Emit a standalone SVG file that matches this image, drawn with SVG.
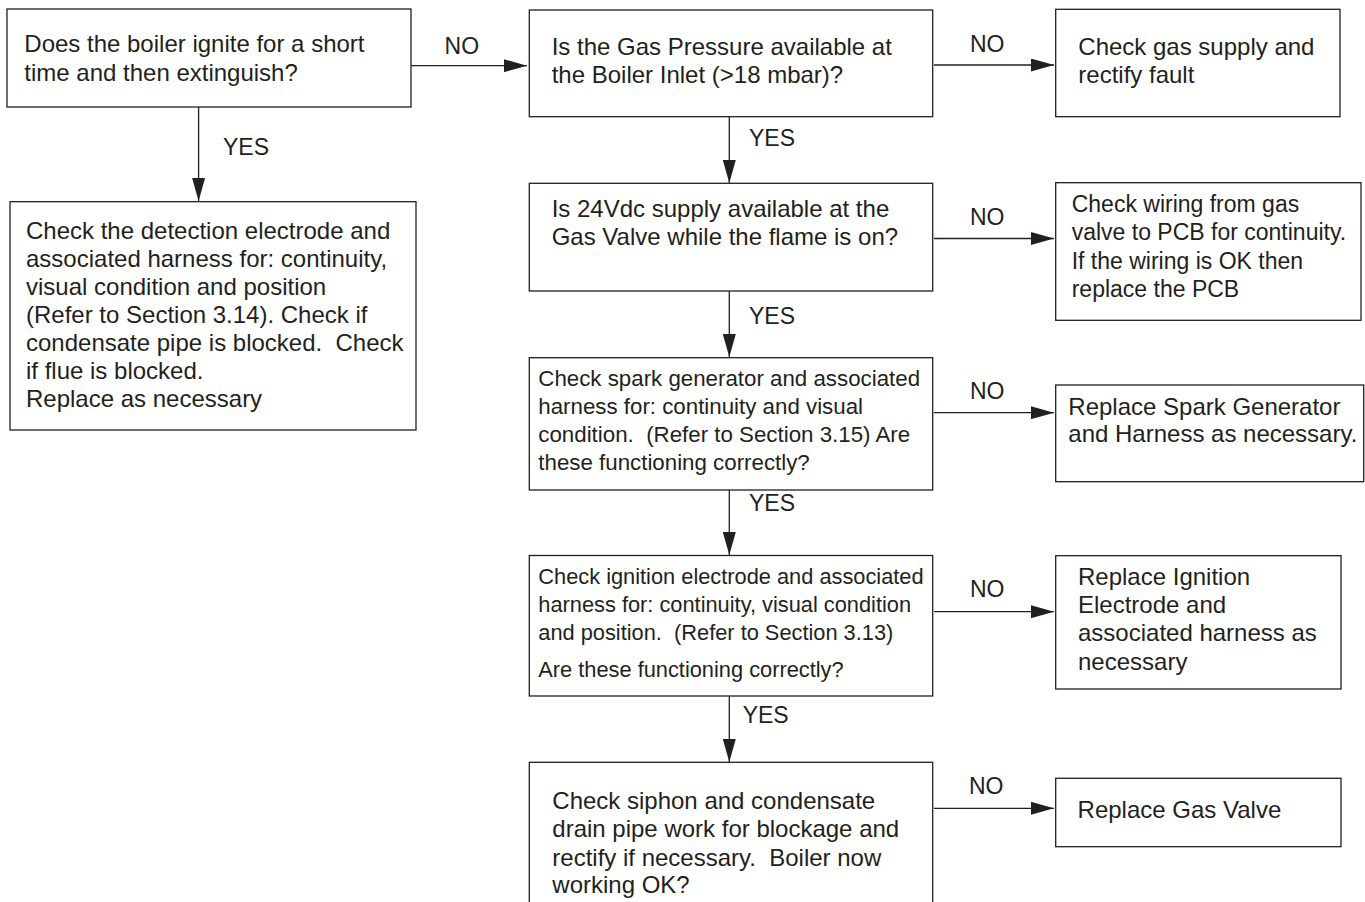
<svg xmlns="http://www.w3.org/2000/svg" width="1365" height="902" viewBox="0 0 1365 902">
<style>
.box{fill:#fff;stroke:#231f20;stroke-width:1.3}
.t{font-family:"Liberation Sans",Arial,sans-serif;font-size:24px;fill:#231f20;white-space:pre}
.s22{font-size:22.3px}
.s21{font-size:21.8px}
.s23{font-size:23px}
.lbl{font-family:"Liberation Sans",Arial,sans-serif;font-size:23px;fill:#231f20}
.c{stroke:#231f20;stroke-width:1.3;fill:none}
</style>
<defs>
<marker id="ah" markerUnits="userSpaceOnUse" viewBox="0 0 23 13" refX="23" refY="6.5" markerWidth="23" markerHeight="13" orient="auto">
<path d="M0,0 L23,6.5 L0,13 Z" fill="#231f20"/>
</marker>
</defs>
<rect width="1365" height="902" fill="#fff"/>

<g id="connectors">
<line class="c" x1="411" y1="65.7" x2="527" y2="65.7" marker-end="url(#ah)"/>
<line class="c" x1="198.6" y1="107" x2="198.6" y2="201" marker-end="url(#ah)"/>
<line class="c" x1="934" y1="65" x2="1054" y2="65" marker-end="url(#ah)"/>
<line class="c" x1="729.3" y1="116.7" x2="729.3" y2="183" marker-end="url(#ah)"/>
<line class="c" x1="934" y1="238.5" x2="1054" y2="238.5" marker-end="url(#ah)"/>
<line class="c" x1="729.3" y1="291" x2="729.3" y2="357" marker-end="url(#ah)"/>
<line class="c" x1="934" y1="412.7" x2="1054" y2="412.7" marker-end="url(#ah)"/>
<line class="c" x1="729.3" y1="490" x2="729.3" y2="555" marker-end="url(#ah)"/>
<line class="c" x1="934" y1="611.7" x2="1054" y2="611.7" marker-end="url(#ah)"/>
<line class="c" x1="729.3" y1="696" x2="729.3" y2="762" marker-end="url(#ah)"/>
<line class="c" x1="934" y1="808.3" x2="1054" y2="808.3" marker-end="url(#ah)"/>
<text class="lbl" x="444.6" y="54">NO</text>
<text class="lbl" x="223" y="155">YES</text>
<text class="lbl" x="970" y="52">NO</text>
<text class="lbl" x="749" y="146">YES</text>
<text class="lbl" x="970" y="225">NO</text>
<text class="lbl" x="749" y="323.5">YES</text>
<text class="lbl" x="970" y="399">NO</text>
<text class="lbl" x="749" y="511">YES</text>
<text class="lbl" x="970" y="597">NO</text>
<text class="lbl" x="742.7" y="723">YES</text>
<text class="lbl" x="969" y="794">NO</text>
</g>

<g id="n1">
<rect class="box" x="7" y="9" width="404" height="98"/>
<text class="t" x="24.3" y="52">Does the boiler ignite for a short</text>
<text class="t" x="24.3" y="80.5">time and then extinguish?</text>
</g>

<g id="n2">
<rect class="box" x="10" y="201.7" width="406" height="228.3"/>
<text class="t" x="26" y="239">Check the detection electrode and</text>
<text class="t" x="26" y="267">associated harness for: continuity,</text>
<text class="t" x="26" y="295">visual condition and position</text>
<text class="t" x="26" y="323">(Refer to Section 3.14). Check if</text>
<text class="t" x="26" y="351">condensate pipe is blocked.  Check</text>
<text class="t" x="26" y="379">if flue is blocked.</text>
<text class="t" x="26" y="407">Replace as necessary</text>
</g>

<g id="n3">
<rect class="box" x="529.3" y="10" width="403.4" height="106.7"/>
<text class="t" x="551.7" y="54.5">Is the Gas Pressure available at</text>
<text class="t" x="551.7" y="83">the Boiler Inlet (&gt;18 mbar)?</text>
</g>

<g id="n4">
<rect class="box" x="1055.7" y="9.3" width="284.3" height="107.4"/>
<text class="t" x="1078.3" y="54.5">Check gas supply and</text>
<text class="t" x="1078.3" y="83">rectify fault</text>
</g>

<g id="n5">
<rect class="box" x="529.3" y="183.3" width="403.4" height="107.7"/>
<text class="t" x="551.7" y="217">Is 24Vdc supply available at the</text>
<text class="t" x="551.7" y="245">Gas Valve while the flame is on?</text>
</g>

<g id="n6">
<rect class="box" x="1055.7" y="182.7" width="305.3" height="137.6"/>
<text class="t s23" x="1071.7" y="211.5">Check wiring from gas</text>
<text class="t s23" x="1071.7" y="240">valve to PCB for continuity.</text>
<text class="t s23" x="1071.7" y="268.5">If the wiring is OK then</text>
<text class="t s23" x="1071.7" y="297">replace the PCB</text>
</g>

<g id="n7">
<rect class="box" x="529.3" y="357.7" width="403.4" height="132.3"/>
<text class="t s22" x="538.3" y="386">Check spark generator and associated</text>
<text class="t s22" x="538.3" y="414">harness for: continuity and visual</text>
<text class="t s22" x="538.3" y="442">condition.  (Refer to Section 3.15) Are</text>
<text class="t s22" x="538.3" y="470">these functioning correctly?</text>
</g>

<g id="n8">
<rect class="box" x="1055.7" y="385" width="308" height="96.7"/>
<text class="t" x="1068.3" y="414.5">Replace Spark Generator</text>
<text class="t" x="1068.3" y="442">and Harness as necessary.</text>
</g>

<g id="n9">
<rect class="box" x="529.3" y="555.5" width="403.4" height="140.5"/>
<text class="t s21" x="538.3" y="584">Check ignition electrode and associated</text>
<text class="t s21" x="538.3" y="611.5">harness for: continuity, visual condition</text>
<text class="t s21" x="538.3" y="639.5">and position.  (Refer to Section 3.13)</text>
<text class="t s21" x="538.3" y="677">Are these functioning correctly?</text>
</g>

<g id="n10">
<rect class="box" x="1055.7" y="555.7" width="285.3" height="133.3"/>
<text class="t" x="1078" y="584.5">Replace Ignition</text>
<text class="t" x="1078" y="613">Electrode and</text>
<text class="t" x="1078" y="641">associated harness as</text>
<text class="t" x="1078" y="669.5">necessary</text>
</g>

<g id="n11">
<rect class="box" x="529.3" y="762.3" width="403.4" height="160"/>
<text class="t" x="552.3" y="809">Check siphon and condensate</text>
<text class="t" x="552.3" y="837">drain pipe work for blockage and</text>
<text class="t" x="552.3" y="865.5">rectify if necessary.  Boiler now</text>
<text class="t" x="552.3" y="893">working OK?</text>
</g>

<g id="n12">
<rect class="box" x="1055.7" y="778.3" width="285.3" height="68.4"/>
<text class="t" x="1077.6" y="817.5">Replace Gas Valve</text>
</g>
</svg>
